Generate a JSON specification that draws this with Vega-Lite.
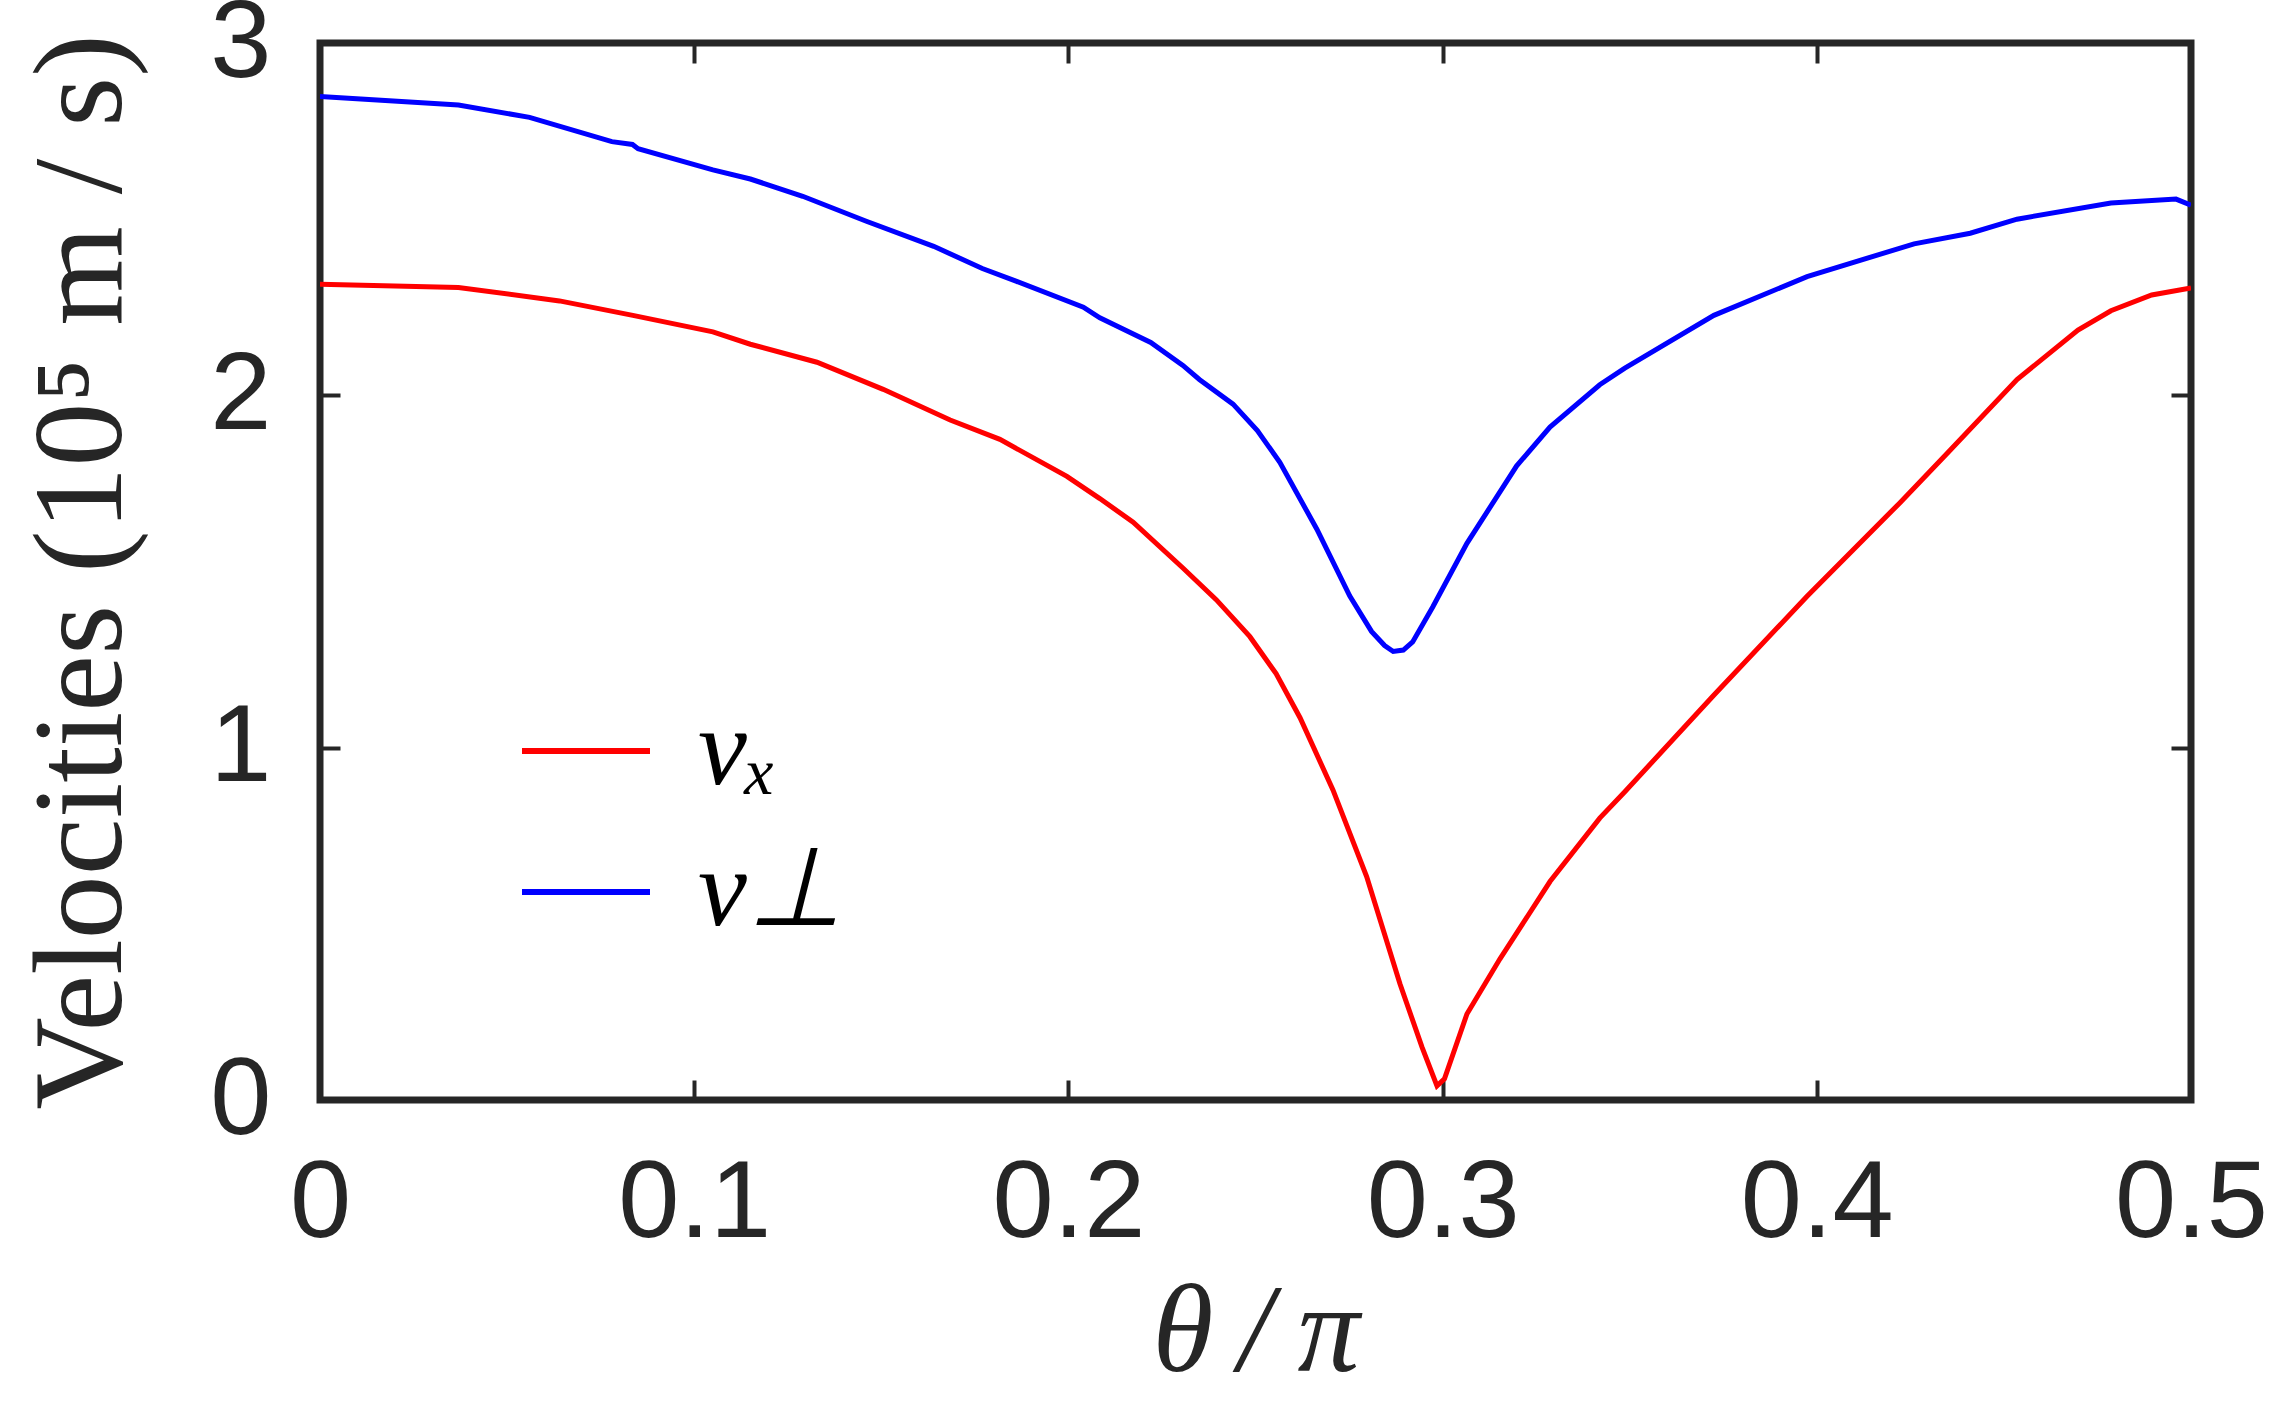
{
  "$schema": "https://vega.github.io/schema/vega-lite/v6.json",
  "width": 1871,
  "height": 1057,
  "autosize": "none",
  "padding": {"left": 320, "top": 43, "right": 90, "bottom": 309},
  "background": "white",
  "data": {
    "values": [
      {"theta": 0.0, "v": 2.315, "series": "vₓ"},
      {"theta": 0.037, "v": 2.306, "series": "vₓ"},
      {"theta": 0.064, "v": 2.268, "series": "vₓ"},
      {"theta": 0.0836, "v": 2.227, "series": "vₓ"},
      {"theta": 0.105, "v": 2.18, "series": "vₓ"},
      {"theta": 0.115, "v": 2.145, "series": "vₓ"},
      {"theta": 0.1328, "v": 2.094, "series": "vₓ"},
      {"theta": 0.1505, "v": 2.017, "series": "vₓ"},
      {"theta": 0.1684, "v": 1.93, "series": "vₓ"},
      {"theta": 0.1817, "v": 1.875, "series": "vₓ"},
      {"theta": 0.1996, "v": 1.77, "series": "vₓ"},
      {"theta": 0.2084, "v": 1.707, "series": "vₓ"},
      {"theta": 0.2173, "v": 1.64, "series": "vₓ"},
      {"theta": 0.2306, "v": 1.51, "series": "vₓ"},
      {"theta": 0.2395, "v": 1.42, "series": "vₓ"},
      {"theta": 0.2485, "v": 1.315, "series": "vₓ"},
      {"theta": 0.2555, "v": 1.21, "series": "vₓ"},
      {"theta": 0.2619, "v": 1.085, "series": "vₓ"},
      {"theta": 0.2707, "v": 0.88, "series": "vₓ"},
      {"theta": 0.2797, "v": 0.634, "series": "vₓ"},
      {"theta": 0.2886, "v": 0.33, "series": "vₓ"},
      {"theta": 0.2945, "v": 0.15, "series": "vₓ"},
      {"theta": 0.2985, "v": 0.04, "series": "vₓ"},
      {"theta": 0.3005, "v": 0.06, "series": "vₓ"},
      {"theta": 0.3065, "v": 0.244, "series": "vₓ"},
      {"theta": 0.3153, "v": 0.4, "series": "vₓ"},
      {"theta": 0.3287, "v": 0.62, "series": "vₓ"},
      {"theta": 0.342, "v": 0.8, "series": "vₓ"},
      {"theta": 0.3487, "v": 0.875, "series": "vₓ"},
      {"theta": 0.3724, "v": 1.148, "series": "vₓ"},
      {"theta": 0.3974, "v": 1.43, "series": "vₓ"},
      {"theta": 0.4223, "v": 1.696, "series": "vₓ"},
      {"theta": 0.4348, "v": 1.835, "series": "vₓ"},
      {"theta": 0.4535, "v": 2.045, "series": "vₓ"},
      {"theta": 0.4698, "v": 2.185, "series": "vₓ"},
      {"theta": 0.4786, "v": 2.24, "series": "vₓ"},
      {"theta": 0.4895, "v": 2.285, "series": "vₓ"},
      {"theta": 0.5, "v": 2.305, "series": "vₓ"},
      {"theta": 0.0, "v": 2.848, "series": "v⊥"},
      {"theta": 0.037, "v": 2.824, "series": "v⊥"},
      {"theta": 0.056, "v": 2.789, "series": "v⊥"},
      {"theta": 0.078, "v": 2.72, "series": "v⊥"},
      {"theta": 0.0835, "v": 2.712, "series": "v⊥"},
      {"theta": 0.085, "v": 2.7, "series": "v⊥"},
      {"theta": 0.105, "v": 2.64, "series": "v⊥"},
      {"theta": 0.115, "v": 2.614, "series": "v⊥"},
      {"theta": 0.129, "v": 2.565, "series": "v⊥"},
      {"theta": 0.146, "v": 2.494, "series": "v⊥"},
      {"theta": 0.164, "v": 2.423, "series": "v⊥"},
      {"theta": 0.177, "v": 2.36, "series": "v⊥"},
      {"theta": 0.186, "v": 2.324, "series": "v⊥"},
      {"theta": 0.204, "v": 2.25, "series": "v⊥"},
      {"theta": 0.2084, "v": 2.22, "series": "v⊥"},
      {"theta": 0.222, "v": 2.15, "series": "v⊥"},
      {"theta": 0.2306, "v": 2.085, "series": "v⊥"},
      {"theta": 0.235, "v": 2.045, "series": "v⊥"},
      {"theta": 0.244, "v": 1.975, "series": "v⊥"},
      {"theta": 0.2505, "v": 1.9, "series": "v⊥"},
      {"theta": 0.2565, "v": 1.81, "series": "v⊥"},
      {"theta": 0.2664, "v": 1.62, "series": "v⊥"},
      {"theta": 0.2752, "v": 1.43, "series": "v⊥"},
      {"theta": 0.281, "v": 1.33, "series": "v⊥"},
      {"theta": 0.2845, "v": 1.29, "series": "v⊥"},
      {"theta": 0.2868, "v": 1.273, "series": "v⊥"},
      {"theta": 0.2895, "v": 1.277, "series": "v⊥"},
      {"theta": 0.292, "v": 1.3, "series": "v⊥"},
      {"theta": 0.2974, "v": 1.4, "series": "v⊥"},
      {"theta": 0.3065, "v": 1.58, "series": "v⊥"},
      {"theta": 0.3198, "v": 1.8, "series": "v⊥"},
      {"theta": 0.3287, "v": 1.91, "series": "v⊥"},
      {"theta": 0.342, "v": 2.03, "series": "v⊥"},
      {"theta": 0.3487, "v": 2.077, "series": "v⊥"},
      {"theta": 0.3725, "v": 2.227, "series": "v⊥"},
      {"theta": 0.3974, "v": 2.337, "series": "v⊥"},
      {"theta": 0.426, "v": 2.43, "series": "v⊥"},
      {"theta": 0.441, "v": 2.46, "series": "v⊥"},
      {"theta": 0.4535, "v": 2.5, "series": "v⊥"},
      {"theta": 0.4786, "v": 2.546, "series": "v⊥"},
      {"theta": 0.496, "v": 2.557, "series": "v⊥"},
      {"theta": 0.5, "v": 2.54, "series": "v⊥"}
    ]
  },
  "layer": [
    {
      "mark": {"type": "line", "strokeWidth": 5, "clip": true},
      "encoding": {
        "x": {
          "field": "theta", "type": "quantitative",
          "scale": {"domain": [0, 0.5], "nice": false},
          "axis": {
            "orient": "bottom", "title": "θ\u2009/\u2009π",
            "values": [0, 0.1, 0.2, 0.3, 0.4, 0.5], "format": "~g",
            "titleFont": "Liberation Serif", "titleFontStyle": "italic", "titleFontWeight": "normal",
            "titleFontSize": 124, "titlePadding": 14
          }
        },
        "y": {
          "field": "v", "type": "quantitative",
          "scale": {"domain": [0, 3], "nice": false},
          "axis": {
            "orient": "left", "title": "Velocities (10⁵ m / s)",
            "values": [0, 1, 2, 3], "format": "d",
            "titleFont": "Liberation Serif", "titleFontWeight": "normal",
            "titleFontSize": 128, "titlePadding": 62
          }
        },
        "color": {
          "field": "series", "type": "nominal",
          "scale": {"domain": ["vₓ", "v⊥"], "range": ["#ff0000", "#0000ff"]},
          "legend": {
            "title": null, "orient": "none", "legendX": 199, "legendY": 641,
            "symbolType": "stroke", "symbolSize": 16384, "symbolStrokeWidth": 6,
            "labelFont": "Liberation Serif", "labelFontStyle": "italic",
            "labelFontSize": 110, "labelColor": "black", "labelOffset": 45,
            "rowPadding": 19, "padding": 0
          }
        }
      }
    },
    {
      "mark": {"type": "line", "opacity": 0},
      "encoding": {
        "x": {
          "field": "theta", "type": "quantitative",
          "axis": {"orient": "top", "labels": false, "title": null, "values": [0, 0.1, 0.2, 0.3, 0.4, 0.5]}
        },
        "y": {
          "field": "v", "type": "quantitative",
          "axis": {"orient": "right", "labels": false, "title": null, "values": [0, 1, 2, 3]}
        },
        "detail": {"field": "series"}
      }
    }
  ],
  "resolve": {"axis": {"x": "independent", "y": "independent"}},
  "config": {
    "view": {"stroke": "#262626", "strokeWidth": 7},
    "axis": {
      "domain": false, "grid": false,
      "tickColor": "#262626", "tickWidth": 4, "tickSize": -20,
      "labelFont": "Liberation Sans Narrow, Liberation Sans", "labelFontSize": 110,
      "labelColor": "#262626", "labelPadding": 69,
      "labelFlush": false, "labelOverlap": false,
      "titleColor": "#262626"
    }
  }
}
